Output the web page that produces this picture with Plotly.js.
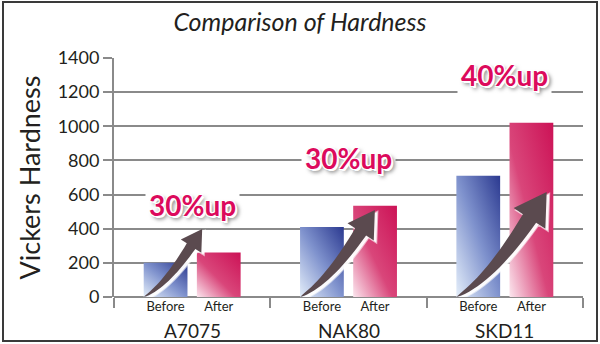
<!DOCTYPE html>
<html>
<head>
<meta charset="utf-8">
<script src="https://cdn.plot.ly/plotly-3.0.1.min.js"></script>
<style>html,body{margin:0;padding:0;background:#fff;}#chart{width:600px;height:344px;}</style>
</head>
<body>
<div id="chart"></div>
<script>
// ---- data ----
const categories = ["A7075", "NAK80", "SKD11"];
const phaseLabels = ["Before", "After"];
const beforeValues = [200, 410, 710];
const afterValues = [260, 535, 1020];
const upLabels = ["30%up", "30%up", "40%up"];
const yTickValues = [0, 200, 400, 600, 800, 1000, 1200, 1400];

// ---- layout constants ----
const W = 600, H = 344;
const M = {l: 114, r: 17, t: 58, b: 47};
const X_RANGE = [-0.5, categories.length - 0.5];
const Y_RANGE = [0, 1400];
const OFF = 0.17, BW = 0.28;
const pxPerX = (W - M.l - M.r) / (X_RANGE[1] - X_RANGE[0]);
const unitPerPxY = (Y_RANGE[1] - Y_RANGE[0]) / (H - M.t - M.b);
const ARROW_PX = [68, 87, 105]; // decoration size (px height)

const gx = categories.map((c, i) => i);
const xBefore = gx.map(g => g - OFF);
const xAfter = gx.map(g => g + OFF);

const FONT = "Lato, 'Open Sans', sans-serif";
const TXT = "#231f20";
const GRID = "#8a8a8a";

const traces = [
  {type: "bar", x: xBefore, y: beforeValues, width: BW, name: phaseLabels[0],
   marker: {color: "#7d8fcb", line: {width: 0}}, hoverinfo: "skip"},
  {type: "bar", x: xAfter, y: afterValues, width: BW, name: phaseLabels[1],
   marker: {color: "#d9356b", line: {width: 0}}, hoverinfo: "skip"}
];

// curved arrow path built from bar positions
function arrowPath(x0, hpx, sx, sy) {
  const wpx = hpx * 0.86;
  const T = [wpx, hpx];
  const ang = 57 * Math.PI / 180;
  const d = [Math.cos(ang), Math.sin(ang)];
  const headLen = 0.30 * hpx, headW = 0.36 * hpx, shaftW = 0.15 * hpx;
  const E = [T[0] - headLen * d[0], T[1] - headLen * d[1]];
  const k = (E[1] - 0.17 * hpx) / d[1];
  const C = [E[0] - k * d[0], E[1] - k * d[1]];
  const S = [0, 0];
  const N = 18, left = [], right = [];
  for (let i = 0; i <= N; i++) {
    const t = i / N;
    const px = (1-t)*(1-t)*S[0] + 2*(1-t)*t*C[0] + t*t*E[0];
    const py = (1-t)*(1-t)*S[1] + 2*(1-t)*t*C[1] + t*t*E[1];
    let tx = 2*(1-t)*(C[0]-S[0]) + 2*t*(E[0]-C[0]);
    let ty = 2*(1-t)*(C[1]-S[1]) + 2*t*(E[1]-C[1]);
    const L = Math.hypot(tx, ty); tx /= L; ty /= L;
    const w = shaftW / 2 * Math.pow(t, 0.7);
    left.push([px - ty * w, py + tx * w]);
    right.push([px + ty * w, py - tx * w]);
  }
  const nrm = [-d[1], d[0]];
  const hl = [E[0] + nrm[0] * headW / 2, E[1] + nrm[1] * headW / 2];
  const hr = [E[0] - nrm[0] * headW / 2, E[1] - nrm[1] * headW / 2];
  const pts = [...left, hl, T, hr, ...right.reverse()];
  const conv = p => [(x0 + (p[0] + sx) / pxPerX).toFixed(4), Math.max(0, (p[1] + sy) * unitPerPxY).toFixed(2)];
  return pts.map((p, i) => (i ? "L" : "M") + conv(p).join(",")).join(" ") + " Z";
}

const shapes = [];
gx.forEach((g, i) => {
  // white glow (offset lower-right)
  shapes.push({type: "path", xref: "x", yref: "y", layer: "above",
    path: arrowPath(xBefore[i] - BW / 2, ARROW_PX[i], 2.5, -2),
    fillcolor: "rgba(255,255,255,0.95)", line: {color: "rgba(255,255,255,0.6)", width: 2}});
  shapes.push({type: "path", xref: "x", yref: "y", layer: "above",
    path: arrowPath(xBefore[i] - BW / 2, ARROW_PX[i], 0, 0),
    fillcolor: "#5b4a4f", line: {width: 0}});
});
// outer frame
const pw = W - M.l - M.r, ph = H - M.t - M.b;
shapes.push({type: "rect", xref: "paper", yref: "paper", layer: "above",
  x0: (3 - M.l) / pw, x1: (597 - M.l) / pw, y0: (H - M.b - 341) / ph, y1: (H - M.b - 2) / ph,
  line: {color: "#3a3a3a", width: 2}, fillcolor: "rgba(0,0,0,0)"});

const annotations = [];
gx.forEach((g, i) => {
  annotations.push({x: g, y: 0, xref: "x", yref: "paper", yanchor: "top", yshift: -20,
    text: categories[i], showarrow: false, font: {family: FONT, size: 19, color: TXT}});
  annotations.push({x: g, y: afterValues[i], xref: "x", yref: "y", yanchor: "middle", yshift: 48,
    text: "<b>" + upLabels[i] + "</b>", showarrow: false, bgcolor: "#ffffff", borderpad: 3,
    font: {family: FONT, size: 28, color: "#dc0a5c",
      shadow: "1px 1px 0 #fff, -1px -1px 0 #fff, 1px -1px 0 #fff, -1px 1px 0 #fff, 2px 2px 0 #fff, 3px 3px 4px rgba(0,0,0,0.6)"}});
});

const layout = {
  width: W, height: H, margin: M,
  paper_bgcolor: "#ffffff", plot_bgcolor: "#ffffff",
  showlegend: false, barmode: "overlay",
  title: {text: "<i>Comparison of Hardness</i>", xref: "container", x: 0.5, y: 1 - 22 / H,
    yanchor: "middle", font: {family: FONT, size: 25, color: TXT}},
  xaxis: {range: X_RANGE, tickmode: "array",
    tickvals: [...xBefore, ...xAfter],
    ticktext: [...xBefore.map(() => phaseLabels[0]), ...xAfter.map(() => phaseLabels[1])],
    ticks: "", showgrid: false, zeroline: false, showline: false,
    tickfont: {family: FONT, size: 13, color: TXT},
    minor: {tickmode: "linear", tick0: -0.5, dtick: 1, ticks: "outside", ticklen: 10,
      tickwidth: 2, tickcolor: GRID, showgrid: false}},
  yaxis: {range: Y_RANGE, tickmode: "array", tickvals: yTickValues,
    showgrid: true, gridcolor: GRID, gridwidth: 2,
    zeroline: true, zerolinecolor: GRID, zerolinewidth: 2,
    showline: true, linecolor: GRID, linewidth: 2,
    ticks: "outside", ticklen: 9, tickwidth: 2, tickcolor: GRID,
    tickfont: {family: FONT, size: 18, color: TXT},
    title: {text: "Vickers Hardness", standoff: 9, font: {family: FONT, size: 27, color: TXT}}},
  shapes: shapes, annotations: annotations
};

Plotly.newPlot("chart", traces, layout, {staticPlot: true, displayModeBar: false}).then(gd => {
  const svg = gd.querySelector("svg.main-svg");
  const ns = "http://www.w3.org/2000/svg";
  let defs = svg.querySelector("defs");
  if (!defs) { defs = document.createElementNS(ns, "defs"); svg.insertBefore(defs, svg.firstChild); }
  function grad(id, stops) {
    const g = document.createElementNS(ns, "linearGradient");
    g.setAttribute("id", id);
    g.setAttribute("x1", "0"); g.setAttribute("y1", "1");
    g.setAttribute("x2", "1"); g.setAttribute("y2", "0");
    stops.forEach(s => {
      const st = document.createElementNS(ns, "stop");
      st.setAttribute("offset", s[0]); st.setAttribute("stop-color", s[1]);
      g.appendChild(st);
    });
    defs.appendChild(g);
  }
  grad("gBefore", [[0, "#e4eefa"], [0.5, "#7f92cd"], [1, "#2b3990"]]);
  grad("gAfter", [[0, "#fbe6ee"], [0.45, "#d9467a"], [1, "#cc1256"]]);
  const tr = gd.querySelectorAll(".barlayer .trace");
  const ids = ["gBefore", "gAfter"];
  tr.forEach((t, i) => t.querySelectorAll("path").forEach(p => { p.style.fill = "url(#" + ids[i] + ")"; }));
});
</script>
</body>
</html>
